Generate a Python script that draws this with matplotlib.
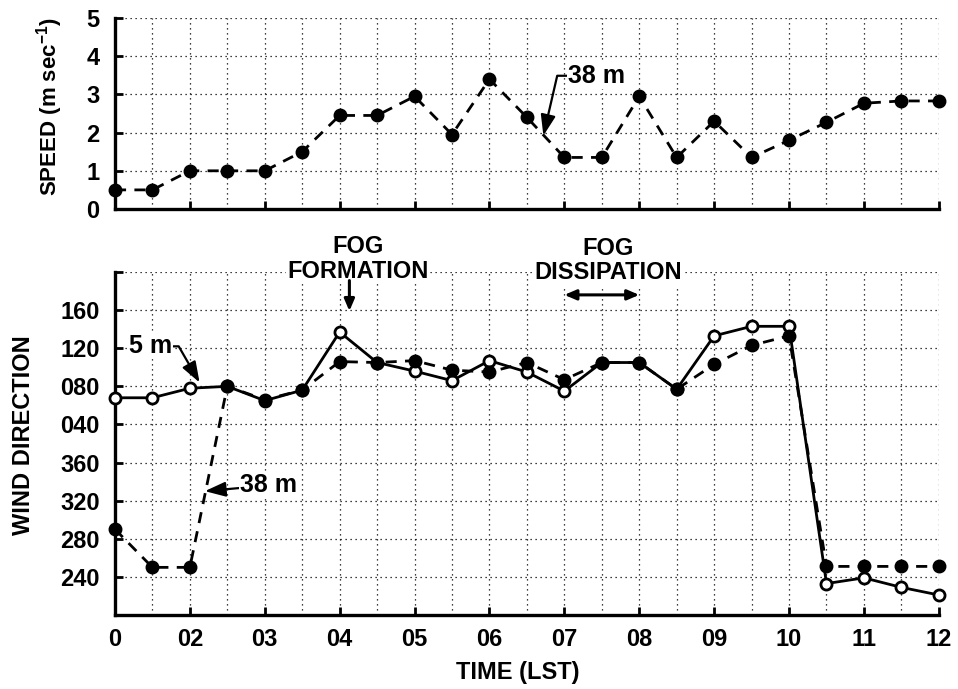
import matplotlib
matplotlib.use('Agg')
import matplotlib.pyplot as plt
from matplotlib.ticker import MultipleLocator

plt.rcParams['font.family'] = ['Liberation Sans', 'DejaVu Sans']
plt.rcParams['font.weight'] = 'bold'
plt.rcParams['mathtext.fontset'] = 'custom'
plt.rcParams['mathtext.rm'] = 'Liberation Sans:bold'
plt.rcParams['mathtext.bf'] = 'Liberation Sans:bold'
plt.rcParams['mathtext.default'] = 'bf'

# ── Data: half-hourly observations, 01–12 LST ──────────────────────────
hours = [1.0, 1.5, 2.0, 2.5, 3.0, 3.5, 4.0, 4.5, 5.0, 5.5, 6.0, 6.5,
         7.0, 7.5, 8.0, 8.5, 9.0, 9.5, 10.0, 10.5, 11.0, 11.5, 12.0]

speed_38m = [0.5, 0.5, 1.0, 1.0, 1.0, 1.5, 2.45, 2.45, 2.95, 1.95, 3.4, 2.4,
             1.35, 1.35, 2.95, 1.35, 2.3, 1.35, 1.8, 2.27, 2.77, 2.83, 2.83]

# wind direction (deg)
dir_5m = [68, 68, 78, 80, 65, 76, 137, 105, 96, 86, 107, 95,
          75, 105, 105, 77, 133, 143, 143, 233, 239, 229, 221]
dir_38m = [290, 250, 250, 80, 66, 76, 106, 105, 107, 97, 95, 105,
           87, 105, 105, 77, 103, 123, 133, 251, 251, 251, 251]

hour_ticks = [1, 2, 3, 4, 5, 6, 7, 8, 9, 10, 11, 12]
hour_labels = ['0', '02', '03', '04', '05', '06', '07', '08', '09', '10', '11', '12']
speed_ticks = [0, 1, 2, 3, 4, 5]
dir_ticks = [240, 280, 320, 360, 400, 440, 480, 520, 560]
dir_labels = ['240', '280', '320', '360', '040', '080', '120', '160', '']


def unwrap(d):
    # axis runs 200 → 560, so small angles sit above 360
    return [v + 360 if v < 200 else v for v in d]


fig = plt.figure(figsize=(9.58, 6.89), dpi=100)
ax1 = fig.add_axes([0.120, 0.6967, 0.860, 0.277])
ax2 = fig.add_axes([0.120, 0.1074, 0.860, 0.4978])

dotted = (0, (1, 3))
for ax in (ax1, ax2):
    ax.set_xlim(1, 12)
    ax.set_xticks(hour_ticks)
    ax.xaxis.set_minor_locator(MultipleLocator(0.5))
    ax.grid(True, which='major', color='k', lw=0.9, ls=dotted)
    ax.grid(True, which='minor', axis='x', color='k', lw=0.9, ls=dotted)
    ax.set_axisbelow(True)
    ax.spines[['top', 'right']].set_visible(False)
    ax.spines[['left', 'bottom']].set_linewidth(2.4)
    ax.tick_params(which='major', direction='in', length=6, width=2,
                   labelsize=17)
    ax.tick_params(axis='y', pad=11)
    ax.tick_params(axis='x', pad=9)
    ax.tick_params(which='minor', length=0)

# ── Top: speed at 38 m ─────────────────────────────────────────────────
ax1.plot(hours, speed_38m, color='k', lw=2, ls=(0, (4, 3)), marker='o',
         ms=9, clip_on=False, zorder=4)
ax1.set_ylim(0, 5)
ax1.set_yticks(speed_ticks)
ax1.tick_params(labelbottom=False)

arrow_kw = dict(arrowstyle='-|>,head_length=0.7,head_width=0.25', color='k',
                lw=1.6, shrinkA=0, shrinkB=0)
ax1.annotate('38 m', xy=(6.72, 1.92), xytext=(7.05, 3.49), ha='left',
             va='center', fontsize=18, fontweight='bold',
             bbox=dict(fc='white', ec='none', pad=0.5),
             arrowprops=dict(connectionstyle='angle,angleA=0,angleB=77,rad=0',
                             **arrow_kw))

# ── Bottom: wind direction ─────────────────────────────────────────────
ax2.plot(hours, unwrap(dir_5m), color='k', lw=2, ls='-', marker='o', ms=8,
         mfc='white', mec='k', mew=2, clip_on=False, zorder=3)
ax2.plot(hours, unwrap(dir_38m), color='k', lw=2, ls=(0, (4, 3)), marker='o',
         ms=9, clip_on=False, zorder=4)
ax2.set_ylim(200, 560)
ax2.set_yticks(dir_ticks)
ax2.set_yticklabels(dir_labels)
ax2.set_xticklabels(hour_labels)

ax2.annotate('5 m', xy=(2.13, 444), xytext=(1.48, 482), ha='center',
             va='center', fontsize=18, fontweight='bold',
             bbox=dict(fc='white', ec='none', pad=0.5),
             arrowprops=dict(connectionstyle='angle,angleA=0,angleB=120,rad=0',
                             **arrow_kw))
ax2.annotate('38 m', xy=(2.2, 330), xytext=(2.67, 336), ha='left',
             va='center', fontsize=18, fontweight='bold',
             bbox=dict(fc='white', ec='none', pad=0.5),
             arrowprops=dict(connectionstyle='arc3', **arrow_kw))

ax2.text(4.24, 574, 'FOG\nFORMATION', ha='center', va='center', fontsize=17,
         fontweight='bold', linespacing=1.1, clip_on=False,
         bbox=dict(fc='white', ec='none', pad=1))
ax2.annotate('', xy=(4.13, 519), xytext=(4.13, 551), annotation_clip=False,
             arrowprops=dict(arrowstyle='-|>,head_length=0.7,head_width=0.3',
                             color='k', lw=2.2, shrinkA=0, shrinkB=0))

ax2.text(7.58, 572, 'FOG\nDISSIPATION', ha='center', va='center', fontsize=17,
         fontweight='bold', linespacing=1.1, clip_on=False,
         bbox=dict(fc='white', ec='none', pad=1))
ax2.annotate('', xy=(8.0, 536), xytext=(7.0, 536), annotation_clip=False,
             arrowprops=dict(arrowstyle='<|-|>,head_length=0.7,head_width=0.3',
                             color='k', lw=2.2, shrinkA=0, shrinkB=0))

# ── Axis titles ────────────────────────────────────────────────────────
fig.text(0.052, 0.846, r'SPEED (m sec$^{-1}$)', rotation=90, ha='center',
         va='center', fontsize=16, fontweight='bold')
fig.text(0.025, 0.369, 'WIND DIRECTION', rotation=90, ha='center',
         va='center', fontsize=17, fontweight='bold')
fig.text(0.540, 0.024, 'TIME (LST)', ha='center', va='center', fontsize=17,
         fontweight='bold')

fig.savefig('out.png', dpi=100)
